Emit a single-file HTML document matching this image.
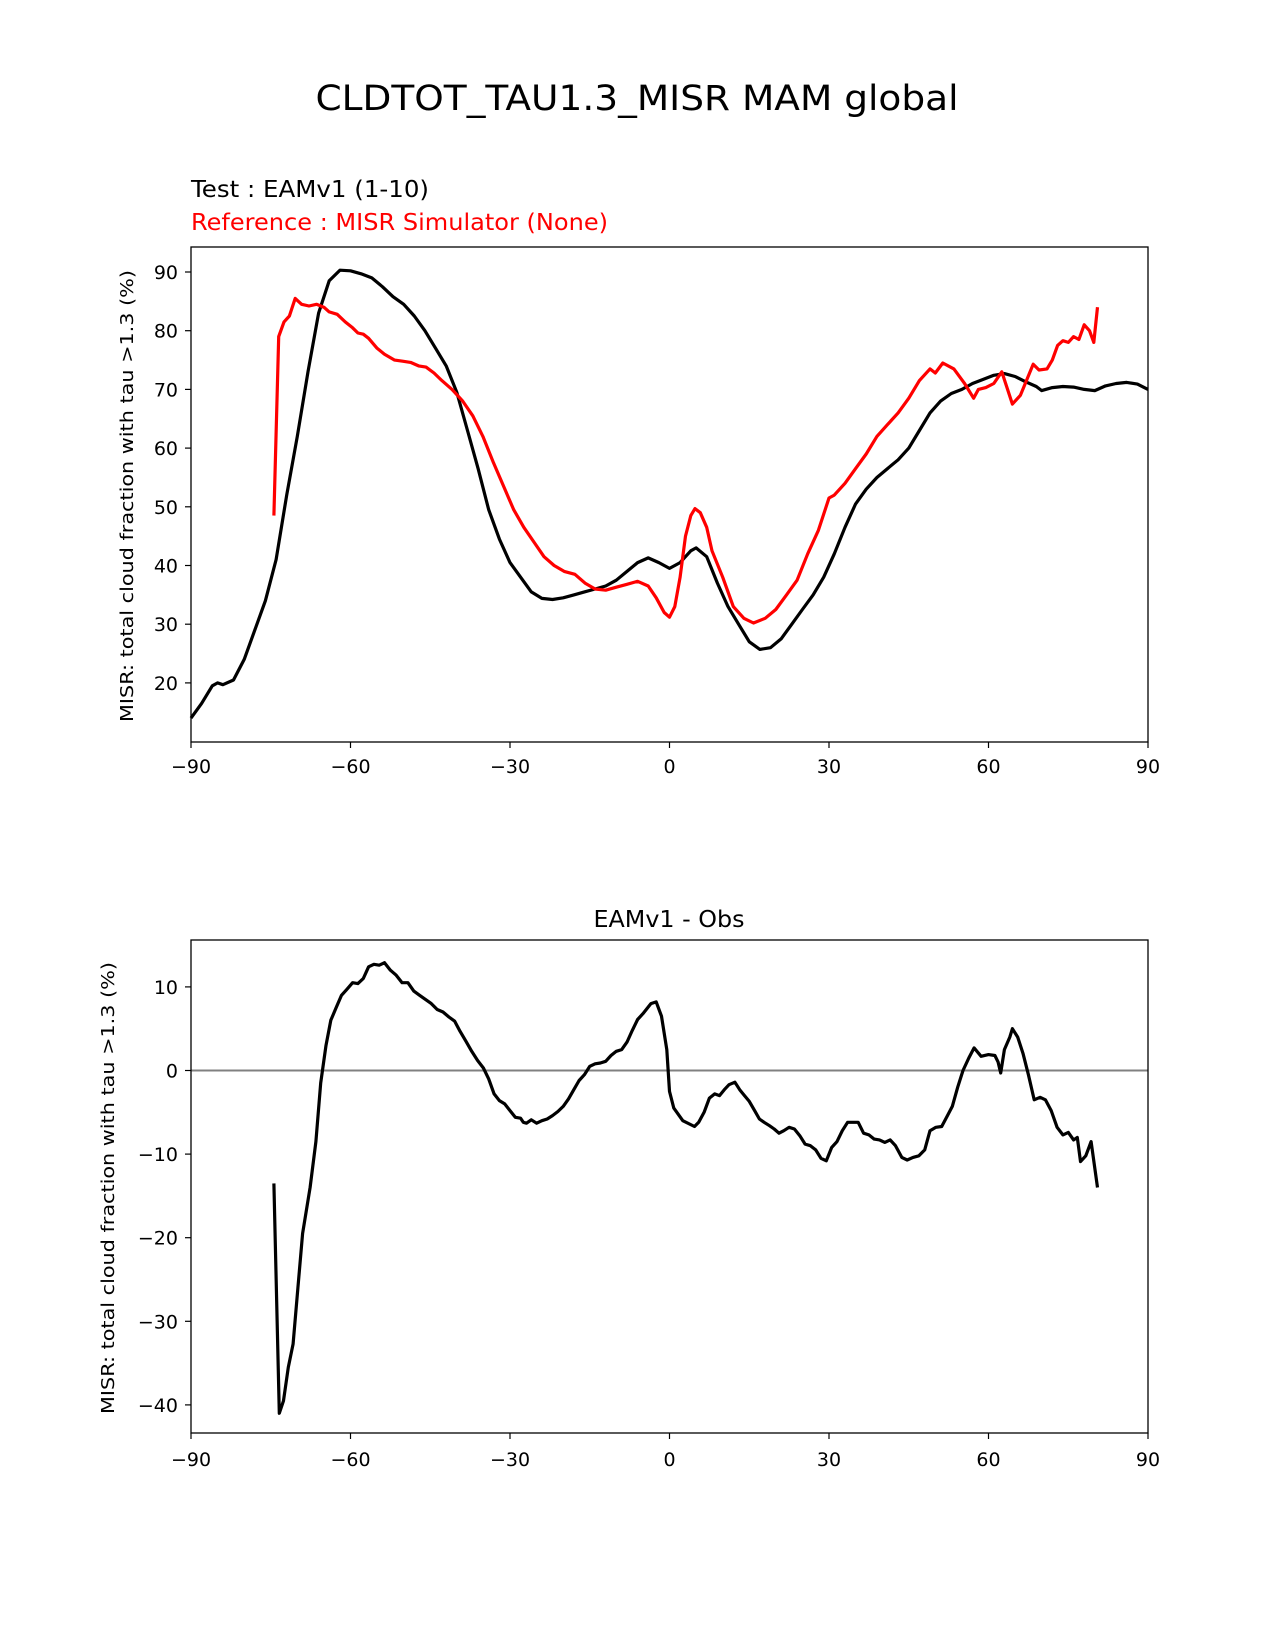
<!DOCTYPE html>
<html><head><meta charset="utf-8"><style>
html,body{margin:0;padding:0;background:#fff;}
svg{display:block;font-family:"DejaVu Sans","Liberation Sans",sans-serif;}
</style></head><body>
<svg id="fig" width="1275" height="1650" viewBox="0 0 1275 1650" xmlns="http://www.w3.org/2000/svg">
<rect width="1275" height="1650" fill="#fff"/>
<text x="637" y="110" font-size="35" text-anchor="middle" textLength="643" lengthAdjust="spacingAndGlyphs">CLDTOT_TAU1.3_MISR MAM global</text>
<text x="191" y="197" font-size="23" textLength="238" lengthAdjust="spacingAndGlyphs">Test : EAMv1 (1-10)</text>
<text x="191" y="230" font-size="23" fill="#ff0000" textLength="417" lengthAdjust="spacingAndGlyphs">Reference : MISR Simulator (None)</text>
<text x="669" y="927" font-size="23" text-anchor="middle" textLength="151" lengthAdjust="spacingAndGlyphs">EAMv1 - Obs</text>
<text transform="translate(133,496) rotate(-90)" font-size="18" text-anchor="middle" textLength="452" lengthAdjust="spacingAndGlyphs">MISR: total cloud fraction with tau &gt;1.3 (%)</text>
<text transform="translate(114,1188) rotate(-90)" font-size="18" text-anchor="middle" textLength="452" lengthAdjust="spacingAndGlyphs">MISR: total cloud fraction with tau &gt;1.3 (%)</text>
<g id="top"></g>
<g id="bot"></g>
</svg>
<script>
const xTicks = [-90,-60,-30,0,30,60,90];
const topYTicks = [20,30,40,50,60,70,80,90];
const botYTicks = [-40,-30,-20,-10,0,10];
const testLat = [-90,-88,-86,-85,-84,-82,-80,-78,-76,-74,-72,-70,-68,-66,-64,-62,-60,-58,-56,-54,-52,-50,-48,-46,-44,-42,-40,-38,-36,-34,-32,-30,-28,-26,-24,-22,-20,-18,-16,-14,-12,-10,-8,-6,-4,-2,0,2,4,5,7,9,11,13,15,17,19,21,23,25,27,29,31,33,35,37,39,41,43,45,47,49,51,53,55,57,59,61,63,65,67,69,70,72,74,76,78,80,82,84,86,88,90];
const testVal = [14,16.5,19.5,20,19.7,20.5,24,29,34,41,52,62,73,83,88.5,90.3,90.2,89.7,89,87.5,85.8,84.5,82.5,80,77,74,69.5,63,56.5,49.5,44.5,40.5,38,35.5,34.4,34.2,34.5,35,35.5,36,36.5,37.5,39,40.5,41.3,40.5,39.5,40.5,42.5,43,41.5,37,33,30,27,25.7,26,27.5,30,32.5,35,38,42,46.5,50.5,53,55,56.5,58,60,63,66,68,69.3,70,71,71.7,72.4,72.7,72.2,71.3,70.5,69.8,70.3,70.5,70.4,70,69.8,70.6,71,71.2,70.9,70];
const refLat = [-74.4,-73.5,-72.5,-71.5,-70.4,-69.2,-67.8,-66.4,-65,-64,-62.5,-61,-59.6,-58.6,-57.6,-56.6,-55,-53.6,-51.7,-50.2,-48.7,-47.2,-45.8,-44.3,-42.8,-40.9,-38.9,-37,-35.1,-33.1,-31.2,-29.3,-27.4,-25.5,-23.6,-21.7,-19.8,-17.8,-15.9,-14,-12,-10,-8,-6,-4,-2.5,-1,0,1,2,3,4,4.8,5.8,7,8,10,12,14,15.8,18,20,22,24,26,28,30,31,33,35,37,39,41,43,45,47,49,50,51.4,53.5,55.5,57.2,58.1,59.5,61,62.5,64.5,66,68.4,69.5,71,72,73,74,75,76,77,78,79,79.8,80.5];
const refVal = [48.5,79,81.5,82.5,85.5,84.5,84.2,84.5,84,83.2,82.8,81.5,80.5,79.6,79.4,78.7,77,76,75,74.8,74.6,74,73.8,72.8,71.5,70,68,65.5,62,57.5,53.5,49.5,46.5,44,41.5,40,39,38.5,37,36,35.8,36.3,36.8,37.3,36.5,34.5,32,31.2,33,38,45,48.5,49.7,49,46.5,42.5,38,33,31,30.2,31,32.5,35,37.5,42,46,51.5,52,54,56.5,59,62,64,66,68.5,71.5,73.5,72.8,74.5,73.5,71,68.5,70,70.3,71,73,67.5,69,74.3,73.3,73.5,75,77.5,78.3,78,79,78.5,81,80,78,84];
const diffLat = [-74.4,-73.4,-72.6,-71.7,-70.8,-69.9,-69,-67.6,-66.5,-65.6,-64.6,-63.7,-62.7,-61.7,-60.7,-59.6,-58.6,-57.6,-56.6,-55.6,-54.6,-53.6,-52.5,-51.4,-50.3,-49.2,-48.1,-47,-44.8,-43.7,-42.6,-41.5,-40.4,-39.4,-38.3,-37.2,-36.1,-35,-34,-33,-32,-31,-30,-29,-28,-27.5,-26.9,-26,-25,-24,-23,-22,-21,-20,-19,-18,-17,-16,-15,-14,-13,-12,-11,-10,-9,-8,-7,-6,-5,-3.5,-2.5,-1.5,-0.5,0,0.8,2.5,4.7,5.5,6.5,7.5,8.5,9.4,10.3,11.2,12.3,13.2,14.1,15,16,16.9,17.8,18.8,19.7,20.6,21.5,22.5,23.5,24.5,25.5,26.5,27.5,28.5,29.5,30.5,31.5,32.5,33.5,35.5,36.5,37.5,38.5,39.5,40.5,41.5,42.5,43.7,44.7,45.8,46.9,48,49,50.1,51.2,52.2,53.2,54.2,55.2,56.3,57.3,58.6,60,61.2,61.8,62.3,63,64,64.5,65.5,66.5,67.5,68.6,69.7,70.7,71.8,72.9,74,75,76,76.7,77.3,78.3,79.3,80.5];
const diffVal = [-13.5,-41,-39.5,-35.5,-32.7,-26,-19.5,-14,-8.5,-1.5,3,6,7.5,9,9.7,10.5,10.4,11,12.4,12.7,12.6,12.9,12,11.4,10.5,10.5,9.5,9,8,7.3,7,6.4,5.9,4.7,3.5,2.3,1.2,0.3,-1,-2.8,-3.6,-4,-4.8,-5.6,-5.7,-6.2,-6.3,-5.9,-6.3,-6,-5.8,-5.4,-4.9,-4.3,-3.4,-2.3,-1.2,-0.5,0.5,0.8,0.9,1.1,1.8,2.3,2.5,3.4,4.8,6.1,6.8,8,8.2,6.5,2.5,-2.5,-4.5,-6,-6.7,-6.2,-5,-3.3,-2.8,-3,-2.3,-1.7,-1.4,-2.3,-3,-3.7,-4.8,-5.8,-6.2,-6.6,-7,-7.5,-7.2,-6.8,-7,-7.8,-8.8,-9,-9.5,-10.5,-10.8,-9.2,-8.5,-7.2,-6.2,-6.2,-7.5,-7.7,-8.2,-8.3,-8.6,-8.3,-9,-10.4,-10.7,-10.4,-10.2,-9.5,-7.2,-6.8,-6.7,-5.5,-4.3,-2,0,1.5,2.7,1.7,1.9,1.8,1,-0.3,2.5,4,5,4,2,-0.5,-3.5,-3.2,-3.5,-4.8,-6.8,-7.7,-7.4,-8.3,-8,-10.9,-10.2,-8.5,-14];

const NS='http://www.w3.org/2000/svg';
function mk(tag, attrs, parent){const e=document.createElementNS(NS,tag);for(const k in attrs)e.setAttribute(k,attrs[k]);parent.appendChild(e);return e;}
function xScale(v){return 191+(v+90)/180*(1148-191);}
function topY(v){return 272+(90-v)*5.87;}
function botY(v){return 1070.5-v*8.36;}

function drawAxes(g, top, bottom, yTicks, yFn, tickBase){
  xTicks.forEach(t=>{
    const x=xScale(t);
    const l=mk('line',{x1:x,x2:x,y1:bottom,y2:bottom+6,stroke:'#000','stroke-width':1.2},g);
    
    
    const tx=mk('text',{x:x,y:tickBase,'font-size':19,'text-anchor':'middle'},g);
    tx.textContent=(t<0?'\u2212'+(-t):String(t));
    
    
  });
  yTicks.forEach(t=>{
    const y=yFn(t);
    const l=mk('line',{x1:185,x2:191,y1:y,y2:y,stroke:'#000','stroke-width':1.2},g);
    
    
    const tx=mk('text',{x:178,y:y+7,'font-size':19,'text-anchor':'end'},g);
    tx.textContent=(t<0?'\u2212'+(-t):String(t));
    
    
  });
}
function drawLine(g, xs, ys, yFn, color, name){
  const d=xs.map((x,i)=>(i?'L':'M')+xScale(x).toFixed(1)+','+yFn(ys[i]).toFixed(1)).join(' ');
  const p=mk('path',{d:d,fill:'none',stroke:color,'stroke-width':3.2,'stroke-linejoin':'round'},g);
  
  
}
const gt=document.getElementById('top');
drawLine(gt,testLat,testVal,topY,'#000','test-line');
drawLine(gt,refLat,refVal,topY,'#ff0000','reference-line');
const ft=mk('rect',{x:191,y:247,width:957,height:495,fill:'none',stroke:'#000','stroke-width':1.3},gt);


drawAxes(gt,247,742,topYTicks,topY,773);

const gb=document.getElementById('bot');
const zl=mk('line',{x1:191,x2:1148,y1:botY(0),y2:botY(0),stroke:'#808080','stroke-width':2},gb);


drawLine(gb,diffLat,diffVal,botY,'#000','difference-line');
const fb=mk('rect',{x:191,y:940,width:957,height:493,fill:'none',stroke:'#000','stroke-width':1.3},gb);


drawAxes(gb,940,1433,botYTicks,botY,1466);
</script>
</body></html>
